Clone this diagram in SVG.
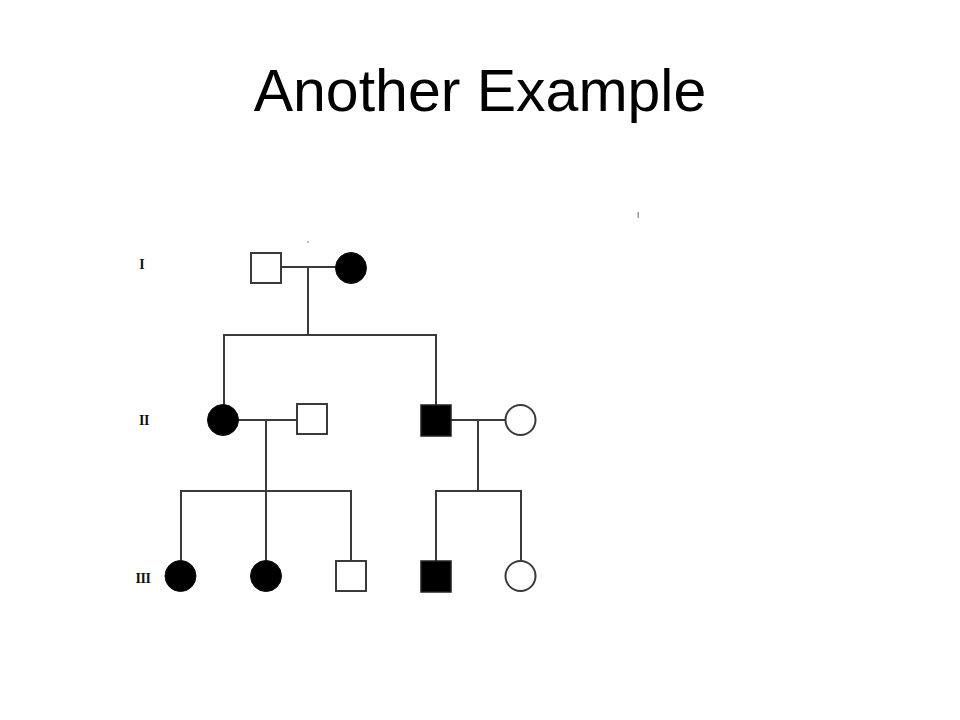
<svg xmlns="http://www.w3.org/2000/svg" width="960" height="720" viewBox="0 0 960 720">
<style>
.title{font-family:"Liberation Sans",Arial,sans-serif;font-size:59px;fill:#000}
.gen{font-family:"Liberation Serif","Times New Roman",serif;font-size:14px;font-weight:bold;fill:#111}
.ln{stroke:#3a3a3a;stroke-width:2;fill:none}
.sq-open{fill:#fff;stroke:#3a3a3a;stroke-width:2}
.sq-fill{fill:#000;stroke:#222;stroke-width:1.5}
.ci-open{fill:#fff;stroke:#3a3a3a;stroke-width:2}
.ci-fill{fill:#000;stroke:#111;stroke-width:1}
</style>
<rect width="960" height="720" fill="#fff"/>
<text class="title" x="480" y="111" text-anchor="middle">Another Example</text>
<g id="labels">
<text class="gen" x="142" y="269" text-anchor="middle">I</text>
<text class="gen" x="144" y="425" text-anchor="middle" letter-spacing="-0.5">II</text>
<text class="gen" x="143" y="583" text-anchor="middle" letter-spacing="-0.5">III</text>
</g>
<g id="marks">
<rect x="307" y="241" width="2" height="2" fill="#bbb"/>
<rect x="637.5" y="212" width="1.5" height="6" fill="#999"/>
</g>
<g id="connectors">
<line class="ln" x1="281" y1="267" x2="336" y2="267"/>
<line class="ln" x1="308" y1="267" x2="308" y2="335"/>
<polyline class="ln" points="224,405 224,335 436,335 436,405"/>
<line class="ln" x1="238" y1="420" x2="297" y2="420"/>
<line class="ln" x1="266" y1="420" x2="266" y2="561"/>
<polyline class="ln" points="181,561 181,491 351,491 351,561"/>
<line class="ln" x1="451" y1="420" x2="505" y2="420"/>
<line class="ln" x1="478" y1="420" x2="478" y2="491"/>
<polyline class="ln" points="436,561 436,491 521,491 521,561"/>
</g>
<g id="I-1"><rect class="sq-open" x="251" y="253" width="30" height="30"/></g>
<g id="I-2"><circle class="ci-fill" cx="351" cy="268" r="15.5"/></g>
<g id="II-1"><circle class="ci-fill" cx="223" cy="420" r="15.5"/></g>
<g id="II-2"><rect class="sq-open" x="297" y="404" width="30" height="30"/></g>
<g id="II-3"><rect class="sq-fill" x="421" y="405" width="30" height="31"/></g>
<g id="II-4"><circle class="ci-open" cx="520.5" cy="420" r="15"/></g>
<g id="III-1"><circle class="ci-fill" cx="180.5" cy="576" r="15.5"/></g>
<g id="III-2"><circle class="ci-fill" cx="266" cy="576" r="15.5"/></g>
<g id="III-3"><rect class="sq-open" x="336" y="561" width="30" height="30"/></g>
<g id="III-4"><rect class="sq-fill" x="421" y="561" width="30" height="31"/></g>
<g id="III-5"><circle class="ci-open" cx="520.5" cy="576" r="15"/></g>
</svg>
